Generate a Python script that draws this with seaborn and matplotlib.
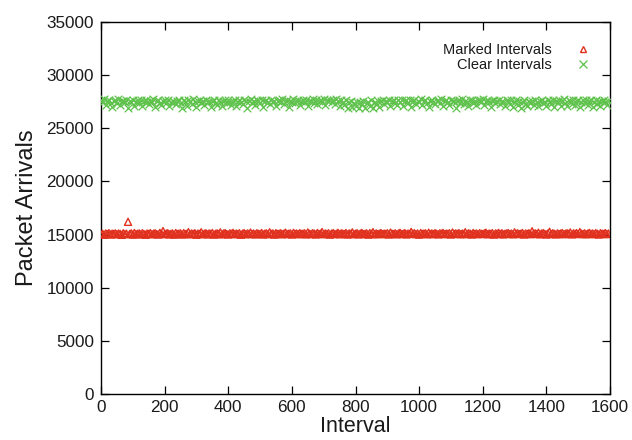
import numpy as np
import pandas as pd
import matplotlib
matplotlib.use("Agg")
import matplotlib.pyplot as plt
import seaborn as sns
from matplotlib.lines import Line2D

# Interval index (sampled every 5 intervals)
intervals = list(range(0, 1600, 5))

clear_values = [
    27620, 27480, 27710, 27150, 27560, 27690, 27420, 27010, 27580, 27650, 27390, 27720, 27200, 27530, 27610, 27460,
    27680, 26950, 27570, 27440, 27700, 27120, 27510, 27640, 27380, 27690, 27050, 27550, 27620, 27430, 27260, 27600,
    27470, 27710, 26980, 27540, 27660, 27400, 27180, 27590, 27630, 27350, 27700, 27090, 27520, 27610, 27450, 27240,
    27580, 27690, 27410, 26900, 27620, 27500, 27140, 27670, 27560, 27330, 27720, 27460, 27020, 27600, 27650, 27390,
    27540, 27160, 27680, 27470, 27610, 26970, 27550, 27700, 27420, 27230, 27640, 27510, 27090, 27590, 27660, 27380,
    27700, 27440, 27210, 27570, 27630, 27060, 27520, 27690, 27480, 27300, 27650, 27560, 26950, 27610, 27720, 27410,
    27590, 27180, 27660, 27530, 27400, 27700, 27040, 27580, 27640, 27460, 27250, 27690, 27520, 27610, 27110, 27570,
    27650, 27430, 27720, 27280, 27550, 27680, 27010, 27600, 27490, 27710, 27350, 27560, 27640, 27200, 27590, 27670,
    27450, 27700, 27080, 27610, 27540, 27720, 27390, 27660, 27250, 27580, 27690, 27470, 27730, 27150, 27620, 27560,
    27700, 27480, 27640, 27320, 27750, 27590, 27060, 27680, 27510, 27230, 27620, 26900, 27450, 27560, 26980, 27380,
    27120, 27520, 26870, 27450, 27280, 27600, 26950, 27380, 27520, 27100, 27640, 26920, 27470, 27300, 27580, 27020,
    27540, 27660, 27260, 27600, 27430, 27700, 27090, 27570, 27650, 27370, 27210, 27620, 27500, 27690, 27140, 27580,
    27630, 27410, 27700, 27030, 27560, 27650, 27300, 27600, 27480, 27720, 27170, 27540, 27660, 27420, 26960, 27610,
    27690, 27500, 27240, 27580, 27640, 27380, 27710, 27080, 27550, 27620, 27450, 27190, 27680, 27530, 27600, 26930,
    27570, 27660, 27420, 27710, 27260, 27590, 27510, 27060, 27640, 27700, 27380, 27550, 27150, 27620, 27680, 27450,
    27730, 27210, 27580, 27650, 27490, 27020, 27610, 27690, 27360, 27540, 27700, 27240, 27600, 27470, 27110, 27650,
    27560, 27330, 27690, 27010, 27520, 27620, 27180, 27580, 26880, 27460, 27640, 27250, 27050, 27600, 27390, 27540,
    27220, 27650, 27480, 27080, 27600, 27700, 27340, 27510, 27130, 27670, 27560, 27290, 27620, 27030, 27580, 27450,
    27690, 27110, 27610, 27750, 27400, 27060, 27640, 27530, 27270, 27700, 27180, 27590, 27660, 27000, 27480, 27620,
    27380, 27680, 27150, 27570, 27640, 26960, 27520, 27700, 27310, 27600, 27090, 27560, 27650, 27430, 27200, 27610,
]

marked_values = [
    15020, 15080, 14990, 15110, 15050, 15140, 15010, 15090, 15060, 15120, 15030, 15100, 15070, 14980, 15130, 15040,
    15090, 16200, 15060, 15120, 15000, 15150, 15040, 15080, 15110, 15020, 15130, 15060, 14990, 15100, 15070, 15140,
    15030, 15090, 15120, 15050, 15010, 15160, 15080, 15330, 15040, 15100, 15130, 15020, 15070, 15110, 15000, 15150,
    15060, 15090, 15120, 15010, 15140, 15050, 15080, 15230, 15030, 15110, 15070, 15130, 14990, 15100, 15060, 15220,
    15040, 15090, 15130, 15020, 15110, 15070, 15150, 15000, 15080, 15120, 15050, 15210, 15030, 15100, 15140, 15060,
    15010, 15120, 15080, 15170, 15040, 15100, 15060, 15130, 14990, 15090, 15140, 15030, 15110, 15070, 15190, 15050,
    15100, 15020, 15130, 15080, 15060, 15150, 15010, 15090, 15120, 15040, 15220, 15070, 15110, 15000, 15140, 15060,
    15090, 15130, 15030, 15100, 15180, 15050, 15080, 15120, 15010, 15160, 15070, 15110, 15040, 15140, 15060, 15090,
    15120, 15020, 15200, 15080, 15050, 15130, 15100, 15010, 15150, 15070, 15090, 15240, 15040, 15110, 15060, 15130,
    15000, 15100, 15140, 15050, 15080, 15170, 15030, 15120, 15090, 15060, 15150, 15010, 15110, 15070, 15210, 15040,
    15090, 15130, 15020, 15100, 15160, 15050, 15080, 15120, 15000, 15140, 15070, 15230, 15030, 15110, 15060, 15090,
    15150, 15040, 15100, 15070, 15130, 15010, 15190, 15080, 15060, 15120, 15030, 15110, 15170, 15050, 15090, 15140,
    15020, 15100, 15060, 15250, 15080, 15130, 15040, 15110, 15000, 15150, 15070, 15090, 15120, 15030, 15180, 15060,
    15110, 15050, 15140, 15080, 15020, 15120, 15090, 15160, 15040, 15100, 15070, 15130, 15010, 15200, 15060, 15110,
    15080, 15140, 15030, 15100, 15060, 15220, 15050, 15120, 15090, 15010, 15150, 15070, 15110, 15040, 15130, 15080,
    15060, 15120, 15180, 15030, 15100, 15070, 15140, 15000, 15110, 15090, 15160, 15050, 15130, 15020, 15080, 15110,
    15140, 15060, 15100, 15030, 15210, 15080, 15120, 15050, 15090, 15150, 15010, 15110, 15070, 15130, 15040, 15310,
    15090, 15120, 15060, 15180, 15030, 15100, 15140, 15070, 15010, 15110, 15260, 15050, 15130, 15080, 15020, 15120,
    15060, 15100, 15150, 15040, 15090, 15130, 15070, 15200, 15020, 15110, 15080, 15140, 15050, 15230, 15090, 15060,
    15120, 15030, 15100, 15160, 15070, 15110, 15040, 15140, 15080, 15010, 15130, 15090, 15060, 15150, 15050, 15100,
]

series_names = ["Marked Intervals", "Clear Intervals"]
x_ticks = [0, 200, 400, 600, 800, 1000, 1200, 1400, 1600]
y_ticks = [0, 5000, 10000, 15000, 20000, 25000, 30000, 35000]

RED = "#e0301e"
GREEN = "#5fc24c"
TEXT = "#1a1a1a"

sns.set_style("ticks")
plt.rcParams["font.family"] = ["Liberation Sans", "DejaVu Sans"]

df_marked = pd.DataFrame({"Interval": intervals, "Packets": marked_values})
df_clear = pd.DataFrame({"Interval": intervals, "Packets": clear_values})

fig = plt.figure(figsize=(6.32, 4.40), dpi=100)
ax = fig.add_axes([101 / 632, 1 - 394 / 440, (610 - 101) / 632, (394 - 22) / 440])

sns.scatterplot(data=df_clear, x="Interval", y="Packets", ax=ax, marker="x",
                color=GREEN, s=30, linewidth=0.9, zorder=3)
sns.scatterplot(data=df_marked, x="Interval", y="Packets", ax=ax, marker="^",
                color=RED, facecolor="none", edgecolor=RED, s=26, linewidth=1.0, zorder=3)

ax.set_xlim(0, 1600)
ax.set_ylim(0, 35000)
ax.set_xticks(x_ticks)
ax.set_yticks(y_ticks)
ax.set_xticklabels([str(t) for t in x_ticks])
ax.set_yticklabels([str(t) for t in y_ticks])

for side in ["top", "right", "left", "bottom"]:
    ax.spines[side].set_visible(True)
    ax.spines[side].set_color("black")
    ax.spines[side].set_linewidth(1.0)

ax.tick_params(axis="both", which="major", direction="in", length=6, width=0.9,
               top=True, right=True, labelsize=12.3, colors="black",
               labelcolor=TEXT, pad=5)
ax.tick_params(axis="x", pad=4)

ax.set_xlabel("Interval", fontsize=15.5, labelpad=1, color=TEXT)
ax.set_ylabel("Packet Arrivals", fontsize=17, labelpad=6, color=TEXT)

handles = [
    Line2D([], [], linestyle="none", marker="^", markersize=5, markerfacecolor="none",
           markeredgecolor=RED, markeredgewidth=1.0),
    Line2D([], [], linestyle="none", marker="x", markersize=5.5,
           markeredgecolor=GREEN, markeredgewidth=0.9),
]
leg = ax.legend(handles, series_names, loc="upper right", markerfirst=False, frameon=False,
                fontsize=10.5, handlelength=1.0, handletextpad=1.6, labelspacing=0.05,
                bbox_to_anchor=((590 - 101) / 509, (394 - 43) / 372), borderaxespad=0,
                borderpad=0)
for t in leg.get_texts():
    t.set_color(TEXT)

fig.savefig("out.png", dpi=100)
